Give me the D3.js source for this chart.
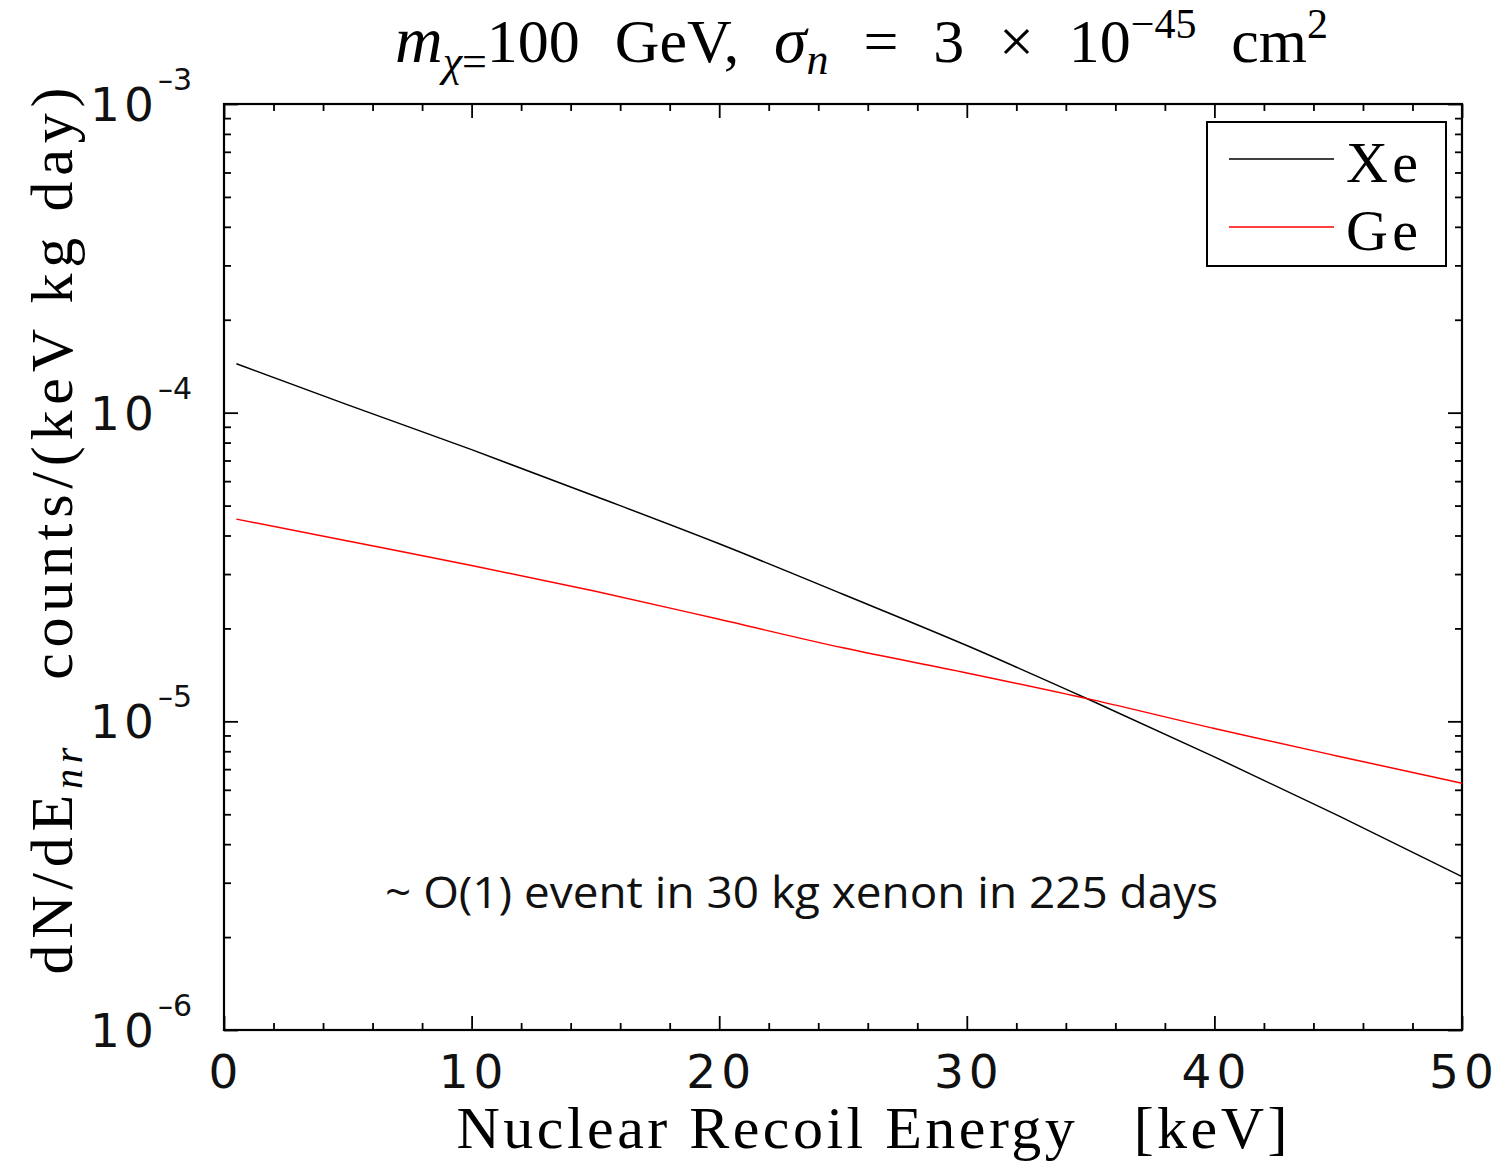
<!DOCTYPE html>
<html>
<head>
<meta charset="utf-8">
<script src="https://cdn.jsdelivr.net/npm/d3@7"></script>
<style>
  html, body { margin: 0; padding: 0; background: #fff; }
  svg { display: block; }
</style>
</head>
<body>
<svg id="chart" width="1500" height="1163"></svg>
<script>
// Recoil energy grid (keV) and differential rates, counts/(keV kg day)
const energy = [0.5, 5, 10, 15, 20, 25, 30, 35, 40, 45, 50];
const xenonRate = [1.44e-4, 1.06e-4, 7.59e-5, 5.36e-5, 3.76e-5, 2.58e-5, 1.76e-5, 1.17e-5, 7.67e-6, 4.95e-6, 3.14e-6];
const germaniumRate = [4.52e-5, 3.84e-5, 3.20e-5, 2.64e-5, 2.14e-5, 1.73e-5, 1.435e-5, 1.178e-5, 9.48e-6, 7.71e-6, 6.30e-6];

const seriesNames = ["Xe", "Ge"];
const seriesColors = ["#000000", "#ff0000"];

const xMajorTicks = [0, 10, 20, 30, 40, 50];
const yDecades = [1e-6, 1e-5, 1e-4, 1e-3];
const yDecadeExponents = ["–6", "–5", "–4", "–3"];

const serif = "'Liberation Serif', 'Times New Roman', serif";
const sans = "'DejaVu Sans', sans-serif";

const svg = d3.select("#chart");
const plot = { left: 224, right: 1462, top: 104, bottom: 1030 };

const x = d3.scaleLinear().domain([0, 50]).range([plot.left, plot.right]);
const y = d3.scaleLog().domain([1e-6, 1e-3]).range([plot.bottom, plot.top]);

// minor ticks: every 2 keV on x, 2..9 within each decade on y
const xMinor = d3.range(0, 50.001, 2).filter(v => v % 10 !== 0);
const yMinor = [];
for (let d = -6; d < -3; d++) for (let m = 2; m <= 9; m++) yMinor.push(m * Math.pow(10, d));

const major = 14, minor = 7;

function styleAxis(g) {
  g.select(".domain").remove();
  g.selectAll(".tick line").attr("stroke", "#000").attr("stroke-width", 1.8);
  g.selectAll(".tick text").remove();
}

// inward ticks on all four sides
[[d3.axisBottom, plot.bottom], [d3.axisTop, plot.top]].forEach(([ax, pos]) => {
  svg.append("g").attr("transform", `translate(0,${pos})`)
    .call(ax(x).tickValues(xMajorTicks).tickSize(-major)).call(styleAxis);
  svg.append("g").attr("transform", `translate(0,${pos})`)
    .call(ax(x).tickValues(xMinor).tickSize(-minor)).call(styleAxis);
});
[[d3.axisLeft, plot.left], [d3.axisRight, plot.right]].forEach(([ax, pos]) => {
  svg.append("g").attr("transform", `translate(${pos},0)`)
    .call(ax(y).tickValues(yDecades).tickSize(-major)).call(styleAxis);
  svg.append("g").attr("transform", `translate(${pos},0)`)
    .call(ax(y).tickValues(yMinor).tickSize(-minor)).call(styleAxis);
});

// frame
svg.append("rect")
  .attr("x", plot.left).attr("y", plot.top)
  .attr("width", plot.right - plot.left).attr("height", plot.bottom - plot.top)
  .attr("fill", "none").attr("stroke", "#000").attr("stroke-width", 2.2);

// x tick labels
svg.append("g").selectAll("text").data(xMajorTicks).join("text")
  .attr("x", d => x(d) + 2).attr("y", 1088)
  .attr("text-anchor", "middle")
  .attr("font-family", sans).attr("font-size", 47).attr("letter-spacing", 5)
  .attr("fill", "#111")
  .text(d => d);

// y tick labels: 10 with exponent
const yl = svg.append("g").selectAll("text").data(yDecades).join("text")
  .attr("x", 192).attr("y", d => y(d) + 17)
  .attr("text-anchor", "end")
  .attr("font-family", sans).attr("fill", "#111");
yl.append("tspan").attr("font-size", 47).attr("letter-spacing", 4).text("10");
yl.append("tspan").attr("font-size", 30).attr("dy", -31).text((d, i) => yDecadeExponents[i]);

// curves
const line = d3.line().x(d => x(d[0])).y(d => y(d[1])).curve(d3.curveMonotoneX);
[xenonRate, germaniumRate].forEach((rates, i) => {
  svg.append("path")
    .datum(energy.map((e, j) => [e, rates[j]]))
    .attr("d", line)
    .attr("fill", "none")
    .attr("stroke", seriesColors[i])
    .attr("stroke-width", 1.5);
});

// legend
const lg = svg.append("g");
lg.append("rect").attr("x", 1207).attr("y", 122).attr("width", 239).attr("height", 144)
  .attr("fill", "#fff").attr("stroke", "#000").attr("stroke-width", 2);
seriesNames.forEach((name, i) => {
  const ly = 159 + i * 68;
  lg.append("line").attr("x1", 1229).attr("x2", 1334).attr("y1", ly).attr("y2", ly)
    .attr("stroke", seriesColors[i]).attr("stroke-width", 1.5);
  lg.append("text").attr("x", 1346).attr("y", ly + 23)
    .attr("font-family", serif).attr("font-size", 58).attr("fill", "#000")
    .attr("textLength", 72).attr("lengthAdjust", "spacing")
    .text(name);
});

// title: natural glyph widths, word gaps widened to span 395..1328
const title = svg.append("text")
  .attr("x", 395).attr("y", 62)
  .attr("font-family", serif).attr("font-size", 62).attr("fill", "#000");
title.append("tspan").attr("font-style", "italic").attr("font-size", 66).text("m");
title.append("tspan").attr("font-size", 44).attr("dy", 14).attr("font-style", "italic").text("χ");
title.append("tspan").attr("font-size", 44).text("=");
title.append("tspan").attr("dy", -14).text("100 GeV, ");
title.append("tspan").attr("font-style", "italic").attr("font-size", 66).text("σ");
title.append("tspan").attr("font-size", 44).attr("dy", 12).attr("font-style", "italic").text("n");
title.append("tspan").attr("dy", -12).text(" = 3 × 10");
title.append("tspan").attr("font-size", 42).attr("dy", -24).text("−45");
title.append("tspan").attr("dy", 24).text(" cm");
title.append("tspan").attr("font-size", 42).attr("dy", -24).text("2");
{
  const natural = title.node().getComputedTextLength();
  const gaps = 7;
  const extra = Math.max(0, (933 - natural) / gaps);
  title.attr("word-spacing", extra);
}

// x axis label
svg.append("text")
  .attr("x", 872).attr("y", 1148).attr("text-anchor", "middle")
  .attr("font-family", serif).attr("font-size", 60).attr("fill", "#000")
  .attr("textLength", 831).attr("lengthAdjust", "spacing")
  .text("Nuclear Recoil Energy\u00a0\u00a0\u00a0[keV]");

// y axis label
const ylab = svg.append("text")
  .attr("transform", "translate(72,531) rotate(-90)")
  .attr("text-anchor", "middle")
  .attr("font-family", serif).attr("font-size", 60).attr("fill", "#000")
  .attr("textLength", 887).attr("lengthAdjust", "spacing");
ylab.append("tspan").text("dN/dE");
ylab.append("tspan").attr("font-size", 40).attr("dy", 10).attr("font-style", "italic").text("nr");
ylab.append("tspan").attr("dy", -10).text("\u00a0\u00a0\u00a0counts/(keV kg day)");

// annotation
svg.append("text")
  .attr("x", 385).attr("y", 908)
  .attr("font-family", "'Liberation Sans Narrow', 'Open Sans', sans-serif")
  .attr("font-size", 44).attr("fill", "#111")
  .attr("textLength", 833).attr("lengthAdjust", "spacingAndGlyphs")
  .text("~ O(1) event in 30 kg xenon in 225 days");
</script>
</body>
</html>
